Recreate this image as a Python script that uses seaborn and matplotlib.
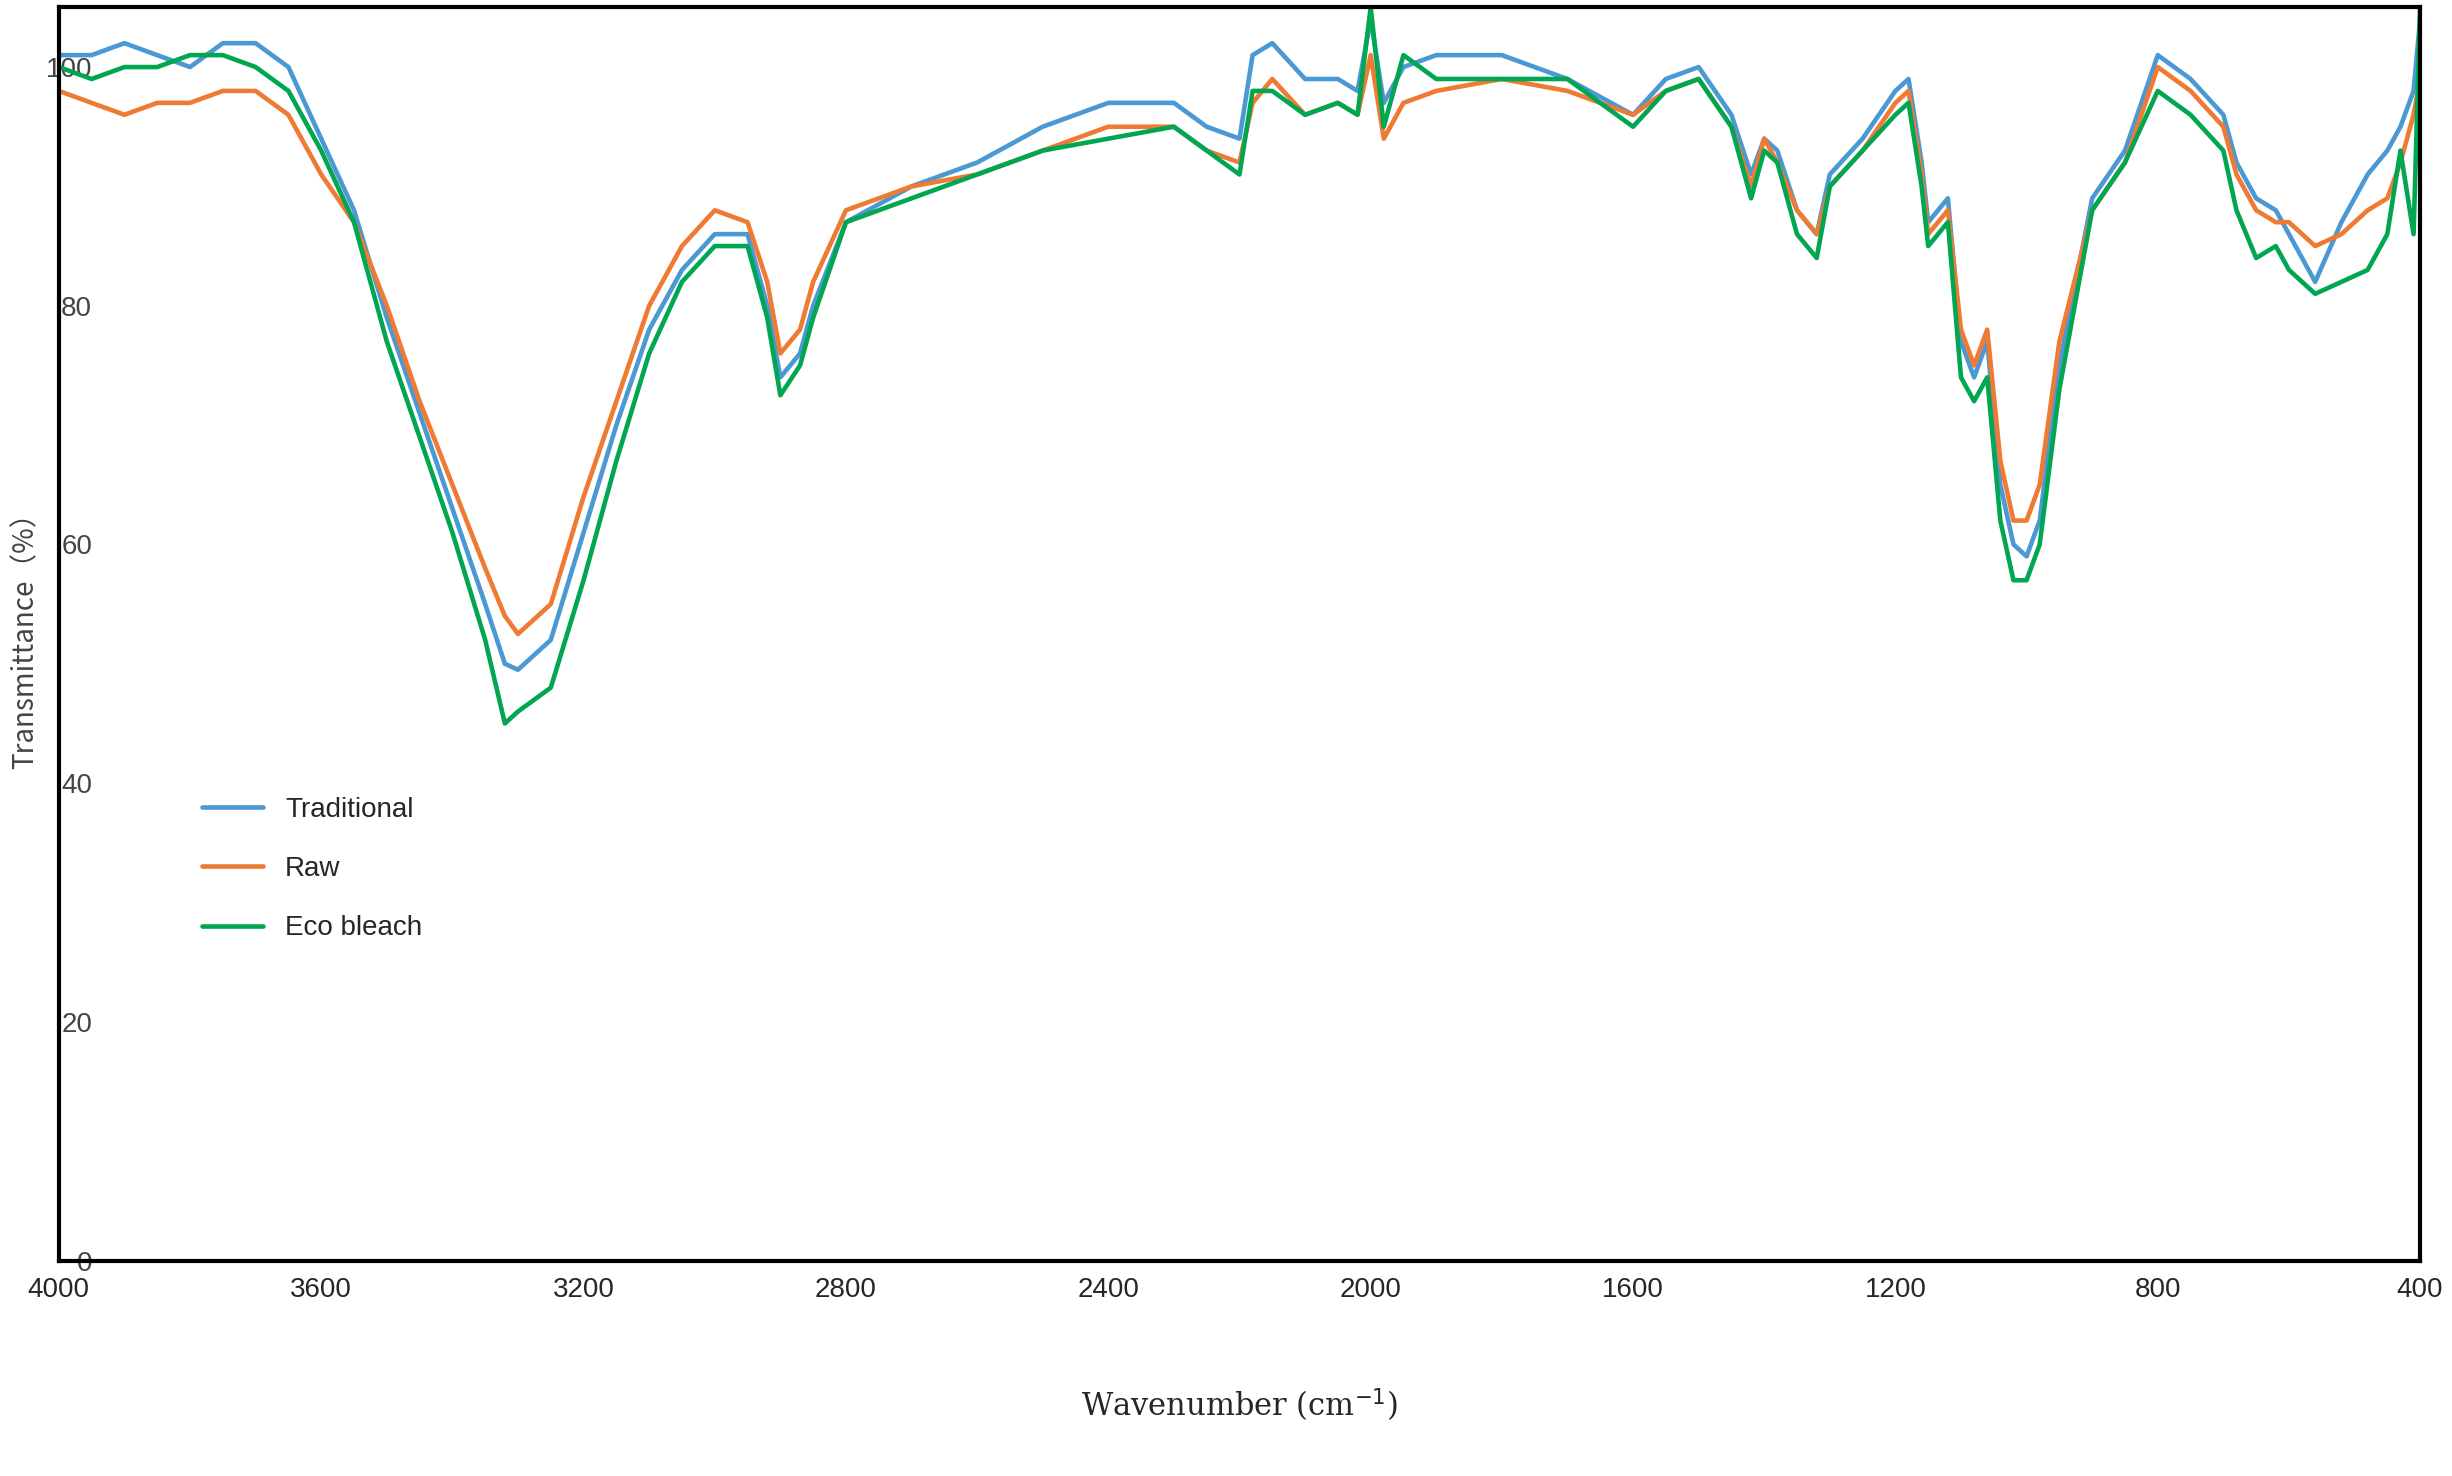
import numpy as np
import pandas as pd
import seaborn as sns
import matplotlib.pyplot as plt

# talasni brojevi (cm^-1)
wavenumber = [4000, 3950, 3900, 3850, 3800, 3750, 3700, 3650, 3600, 3550, 3500, 3450, 3400, 3350, 3320, 3300, 3250,
              3200, 3150, 3100, 3050, 3000, 2950, 2920, 2900, 2870, 2850, 2800, 2700, 2600, 2500, 2400, 2300,
              2250, 2200, 2180, 2150, 2100, 2050, 2020, 2000, 1980, 1950, 1900, 1800, 1700, 1600, 1550, 1500,
              1450, 1420, 1400, 1380, 1350, 1320, 1300, 1250, 1200, 1180, 1160, 1150, 1120, 1100, 1080, 1060,
              1040, 1020, 1000, 980, 950, 900, 850, 800, 750, 700, 680, 650, 620, 600, 560, 520, 480, 450,
              430, 410, 400]

traditional = [101, 101, 102, 101, 100, 102, 102, 100, 94, 88, 79, 71, 63, 55, 50, 49.5, 52,
               61, 70, 78, 83, 86, 86, 80, 74, 76, 80, 87, 90, 92, 95, 97, 97,
               95, 94, 101, 102, 99, 99, 98, 104, 97, 100, 101, 101, 99, 96, 99, 100,
               96, 91, 94, 93, 88, 86, 91, 94, 98, 99, 92, 87, 89, 77, 74, 77,
               65, 60, 59, 62, 75, 89, 93, 101, 99, 96, 92, 89, 88, 86, 82, 87, 91, 93,
               95, 98, 104]

raw = [98, 97, 96, 97, 97, 98, 98, 96, 91, 87, 80, 72, 65, 58, 54, 52.5, 55,
       64, 72, 80, 85, 88, 87, 82, 76, 78, 82, 88, 90, 91, 93, 95, 95,
       93, 92, 97, 99, 96, 97, 96, 101, 94, 97, 98, 99, 98, 96, 98, 99,
       95, 90, 94, 92, 88, 86, 90, 93, 97, 98, 91, 86, 88, 78, 75, 78,
       67, 62, 62, 65, 77, 88, 92, 100, 98, 95, 91, 88, 87, 87, 85, 86, 88, 89,
       92, 96, 99]

eco_bleach = [100, 99, 100, 100, 101, 101, 100, 98, 93, 87, 77, 69, 61, 52, 45, 46, 48,
              57, 67, 76, 82, 85, 85, 79, 72.5, 75, 79, 87, 89, 91, 93, 94, 95,
              93, 91, 98, 98, 96, 97, 96, 105, 95, 101, 99, 99, 99, 95, 98, 99,
              95, 89, 93, 92, 86, 84, 90, 93, 96, 97, 90, 85, 87, 74, 72, 74,
              62, 57, 57, 60, 73, 88, 92, 98, 96, 93, 88, 84, 85, 83, 81, 82, 83, 86,
              93, 86, 105]

podaci = pd.DataFrame({"w": wavenumber, "Traditional": traditional, "Raw": raw, "Eco bleach": eco_bleach})
podaci = podaci.melt(id_vars="w", var_name="uzorak", value_name="T")

sns.set_style("white")
plt.rcParams['font.family'] = ['Liberation Sans', 'DejaVu Sans']

fig, ax = plt.subplots(figsize=(24.52, 14.76), dpi=100)
fig.subplots_adjust(left=0.024, right=0.987, top=0.995, bottom=0.146)

boje = {"Traditional": "#4a98d4", "Raw": "#ee7a33", "Eco bleach": "#00a651"}
sns.lineplot(data=podaci, x="w", y="T", hue="uzorak", palette=boje, linewidth=3.3, ax=ax)

ax.set_xlim(4000, 400)
ax.set_ylim(0, 105)
ax.set_xticks(range(4000, 399, -400))
ax.set_yticks([0, 20, 40, 60, 80, 100])
ax.tick_params(axis='x', labelsize=20, length=0, pad=12)
ax.tick_params(axis='y', labelsize=20, length=0, pad=-24, labelcolor="#444444")
for s in ax.spines.values():
    s.set_linewidth(3)
    s.set_color("black")

ax.set_ylabel("Transmittance（%）", fontsize=20, color="#444444", family=['Noto Sans CJK SC', 'DejaVu Sans'])
ax.set_xlabel("Wavenumber (cm$^{-1}$)", fontsize=22, family="DejaVu Serif", labelpad=60)

leg = ax.legend(loc="upper left", bbox_to_anchor=(0.05, 0.39), frameon=False, fontsize=20,
                handlelength=2.2, labelspacing=1.2)
leg.set_title(None)

plt.savefig("out.png")
